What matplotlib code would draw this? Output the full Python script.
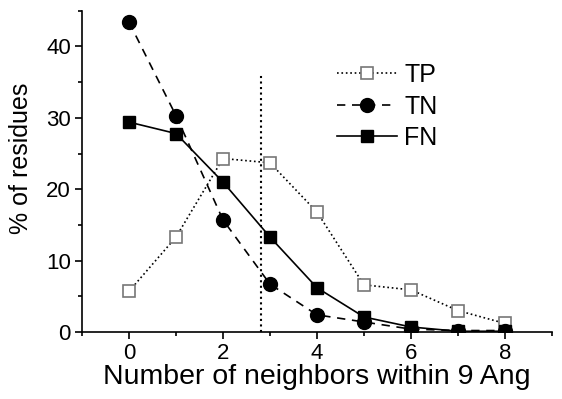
import matplotlib
matplotlib.use("Agg")
import matplotlib.pyplot as plt
from matplotlib.ticker import MultipleLocator

plt.rcParams['font.family'] = ['Liberation Sans', 'DejaVu Sans']

neighbors = [0, 1, 2, 3, 4, 5, 6, 7, 8]
tp = [5.7, 13.3, 24.3, 23.7, 16.8, 6.6, 5.9, 3.0, 1.2]
tn = [43.4, 30.3, 15.7, 6.7, 2.4, 1.4, 0.4, 0.2, 0.2]
fn = [29.4, 27.8, 21.0, 13.3, 6.2, 2.1, 0.7, 0.1, 0.1]
cutoff = 2.8
cutoff_top = 36

fig = plt.figure(figsize=(5.62, 3.99), dpi=100)
ax = fig.add_axes([0.146, 0.168, 0.836, 0.805])

ax.plot(neighbors, tp, linestyle=':', color='black', lw=1.2, marker='s', ms=9,
        mfc='white', mec='#777777', mew=1.2, label='TP')
ax.plot(neighbors, tn, linestyle=(0, (5, 4)), color='black', lw=1.2, marker='o', ms=10,
        mfc='black', mec='black', label='TN')
ax.plot(neighbors, fn, linestyle='-', color='black', lw=1.2, marker='s', ms=9,
        mfc='black', mec='black', label='FN')
ax.plot([cutoff, cutoff], [0, cutoff_top], linestyle=':', color='black', lw=1.5)

ax.set_xlim(-1, 9)
ax.set_ylim(0, 45)
ax.xaxis.set_major_locator(MultipleLocator(2))
ax.xaxis.set_minor_locator(MultipleLocator(1))
ax.yaxis.set_major_locator(MultipleLocator(10))
ax.yaxis.set_minor_locator(MultipleLocator(5))
ax.tick_params(which='major', direction='out', length=5, width=1.2, labelsize=16, pad=3)
ax.tick_params(which='minor', direction='out', length=3, width=1.2)
for s in ['top', 'right']:
    ax.spines[s].set_visible(False)
for s in ['left', 'bottom']:
    ax.spines[s].set_linewidth(1.2)

ax.set_xlabel('Number of neighbors within 9 Ang', fontsize=20.5, labelpad=0)
ax.set_ylabel('% of residues', fontsize=18)
ax.yaxis.set_label_coords(-0.105, 0.54)

ax.legend(loc='upper left', bbox_to_anchor=(0.515, 0.876), frameon=False, fontsize=18,
          handlelength=2.4, handletextpad=0.3, labelspacing=0.3, borderpad=0)

fig.savefig('out.png', dpi=100)
